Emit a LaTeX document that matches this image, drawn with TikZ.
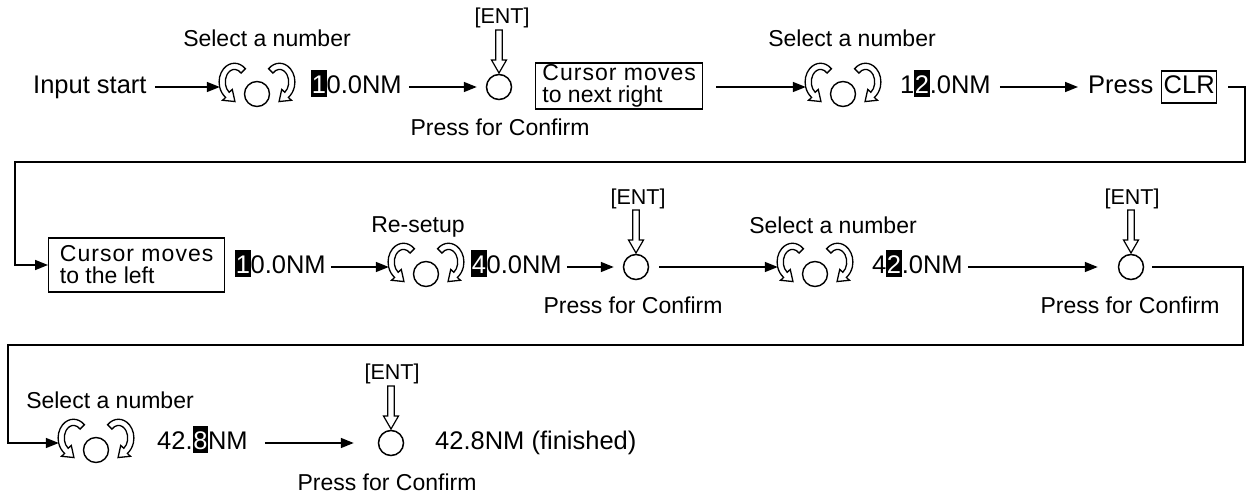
\documentclass[tikz,border=0pt]{standalone}
\usepackage{fontspec}
\setmainfont{Liberation Sans}
\usetikzlibrary{arrows.meta,calc}
\newcommand\fm{\fontsize{25.5}{28}\selectfont}
\newcommand\fl{\fontsize{23}{22}\selectfont}
\newcommand\fe{\fontsize{21.5}{22}\selectfont}
\newcommand\hl[1]{{\setlength{\fboxsep}{0.6pt}\colorbox{black}{\rule[-3.5pt]{0pt}{26pt}\textcolor{white}{#1}}}}
\newcommand\spc[1]{{\addfontfeature{LetterSpace=4.5}#1}}
\tikzset{
  arr/.style={line width=1.6pt, -{Triangle[length=13pt,width=10pt]}},
  txt/.style={font=\fm, inner sep=0pt, text height=18pt, text depth=6pt, anchor=west},
  lbl/.style={font=\fl, inner sep=0pt},
  entl/.style={font=\fe, inner sep=0pt},
  cbox/.style={draw, line width=1.3pt, font=\fl, align=left, inner xsep=2pt, inner ysep=1pt, anchor=west},
  knob/.style={inner sep=0pt, minimum width=74pt, minimum height=30pt},
  okc/.style={circle, draw, line width=1.5pt, minimum size=25pt, inner sep=0pt},
  kl/.style={line width=1.3pt, fill=white},
  hollow/.style={line width=1.2pt, fill=white},
  kar/.pic={\draw[kl] (9.72,11.84) arc[start angle=45,end angle=235,x radius=13.75,y radius=16.75]
      -- (-10.63,-16.32) -- (0.40,-17.46) -- (-1.99,-6.62) -- (-4.73,-9.22)
      arc[start angle=235,end angle=45,x radius=8.25,y radius=11.25] -- cycle;},
  entarrow/.pic={\draw[hollow] (-3.2,0) -- (3.2,0) -- (3.2,-30) -- (7.5,-30) -- (0,-43) -- (-7.5,-30) -- (-3.2,-30) -- cycle;}
}
\newcommand\drawknob[1]{%
  \draw[line width=1.4pt] ($(#1)+(0,-7)$) circle[radius=12.5];
  \pic[scale=1.12] at ($(#1)+(-22.5,5)$) {kar};
  \pic[xscale=-1.12, yscale=1.12] at ($(#1)+(22.5,5)$) {kar};
}
\newcommand\drawent[1]{\pic at ($(#1)+(0,57)$) {entarrow};}
\begin{document}
\begin{tikzpicture}[x=1pt,y=1pt]
\useasboundingbox (0,0) rectangle (1247,-495);
% row 1
\node[txt] (input) at (33,-87) {Input start};
\node[knob] (k1) at (257,-87) {};
\node[lbl] (sel1) at (267,-38) {Select a number};
\node[txt] (n1) at (311,-87) {\hl{1}0.0NM};
\node[okc] (ok1) at (499,-87) {};
\node[entl] (ent1) at (502,-18) {[ENT]};
\node[lbl] (pfc1) at (500,-127) {Press for Confirm};
\node[cbox, minimum width=167pt, minimum height=46pt] (b1) at (535,-86) {\spc{Cursor moves}\\to next right};
\node[knob] (k2) at (843,-87) {};
\node[lbl] (sel2) at (852,-38) {Select a number};
\node[txt] (n2) at (900,-87) {1\hl{2}.0NM};
\node[txt] (press) at (1088,-87) {Press};
\node[txt, draw, line width=1.3pt, inner xsep=2pt, inner ysep=4pt] (clr) at (1161,-87) {CLR};
\coordinate (r1a) at (1245,-162);
\coordinate (r1b) at (15,-162);
% row 2
\node[cbox, minimum width=176pt, minimum height=54pt] (b2) at (48,-265) {\spc{Cursor moves}\\to the left};
\node[txt] (n3) at (235,-267) {\hl{1}0.0NM};
\node[knob] (k3) at (426,-267) {};
\node[lbl] (reset) at (418,-227) {Re-setup};
\node[txt] (n4) at (471,-267) {\hl{4}0.0NM};
\node[okc] (ok2) at (636,-267) {};
\node[entl] (ent2) at (638,-199) {[ENT]};
\node[lbl] (pfc2) at (633,-305) {Press for Confirm};
\node[knob] (k4) at (815,-267) {};
\node[lbl] (sel3) at (833,-225) {Select a number};
\node[txt] (n5) at (872,-267) {4\hl{2}.0NM};
\node[okc] (ok3) at (1131,-267) {};
\node[entl] (ent3) at (1132,-199) {[ENT]};
\node[lbl] (pfc3) at (1130,-305) {Press for Confirm};
\coordinate (r2a) at (1243,-345);
\coordinate (r2b) at (8,-345);
% row 3
\node[knob] (k5) at (96,-443) {};
\node[lbl] (sel4) at (110,-400) {Select a number};
\node[txt] (n6) at (157,-443) {42.\hl{8}NM};
\node[okc] (ok4) at (391,-443) {};
\node[entl] (ent4) at (392,-374) {[ENT]};
\node[lbl] (pfc4) at (387,-482) {Press for Confirm};
\node[txt] (fin) at (435,-443) {42.8NM (finished)};
% knobs and ENT arrows
\drawknob{k1}\drawknob{k2}\drawknob{k3}\drawknob{k4}\drawknob{k5}
\drawent{ok1}\drawent{ok2}\drawent{ok3}\drawent{ok4}
% connectors
\draw[arr, shorten <=8pt] (input) -- (k1);
\draw[arr, shorten <=7pt, shorten >=9pt] (n1) -- (ok1);
\draw[arr, shorten <=13pt] (b1.east |- k2.west) -- (k2.west);
\draw[arr, shorten <=9pt, shorten >=10pt] (n2) -- (press);
\draw[arr, shorten <=11pt] (clr.east) -| (r1a) -- (r1b) |- (b2.west);
\draw[arr, shorten <=5pt] (n3) -- (k3);
\draw[arr, shorten <=5pt, shorten >=9pt] (n4) -- (ok2);
\draw[arr, shorten <=10pt] (ok2) -- (k4);
\draw[arr, shorten <=5pt, shorten >=20pt] (n5) -- (ok3);
\draw[arr, shorten <=8pt] (ok3) -| (r2a) -- (r2b) |- (k5);
\draw[arr, shorten <=17pt, shorten >=24pt] (n6) -- (ok4);
\end{tikzpicture}
\end{document}
